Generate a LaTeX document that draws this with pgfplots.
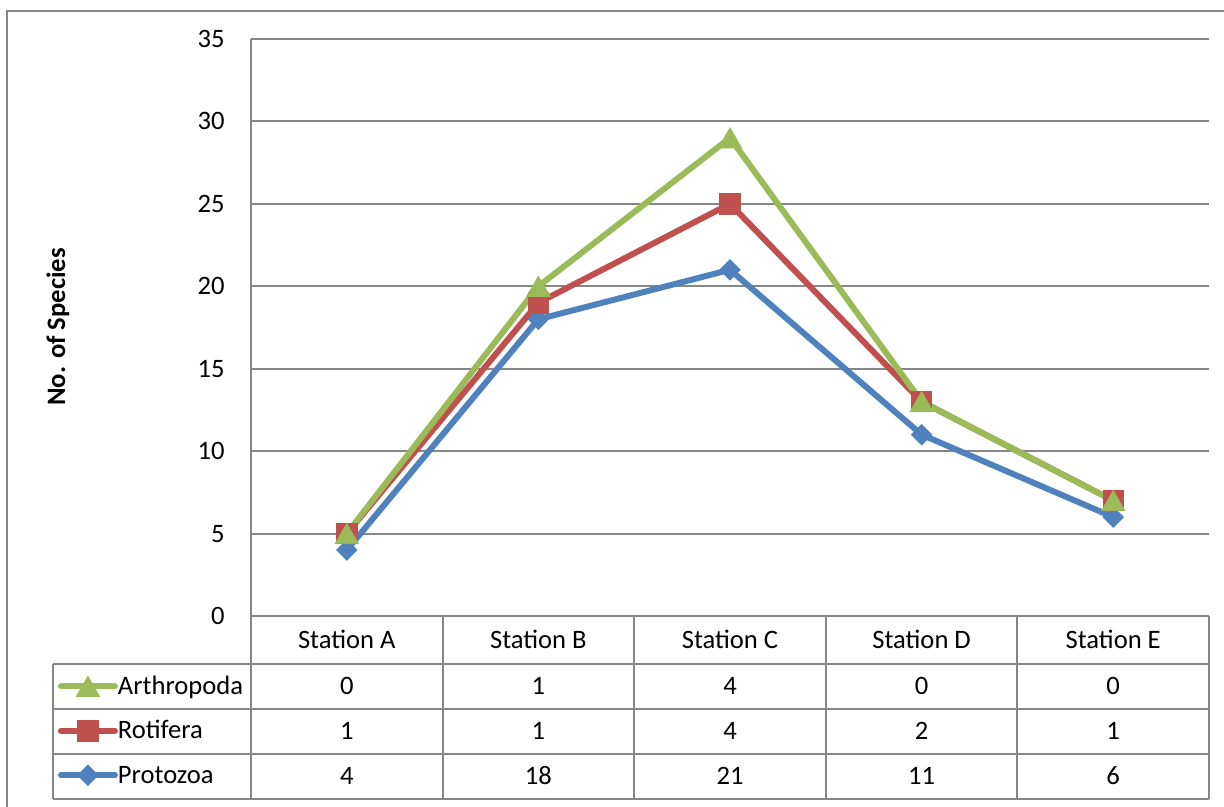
\documentclass[border=0pt]{standalone}
\usepackage{fontspec}
\setmainfont{Carlito}
\usepackage{pgfplots}
\pgfplotsset{compat=1.18}

\definecolor{protoblue}{HTML}{4F81BD}
\definecolor{rotired}{HTML}{C0504D}
\definecolor{arthgreen}{HTML}{9BBB59}
\definecolor{gridgray}{HTML}{878787}
\newcommand\chartfont{\fontsize{13.3bp}{16bp}\selectfont}

\pgfplotsset{
  proto style/.style={protoblue, line width=3bp, mark=square*, mark size=3.6bp,
    mark options={solid, rotate=45, fill=protoblue, draw=protoblue, line width=0.4bp}},
  roti style/.style={rotired, line width=3bp, mark=square*, mark size=5.1bp,
    mark options={solid, fill=rotired, draw=rotired, line width=0.4bp}},
  arth style/.style={arthgreen, line width=3bp, mark=triangle*, mark size=6.7bp,
    mark options={solid, yshift=-1.7bp, fill=arthgreen, draw=arthgreen, line width=0.4bp}},
}

\begin{document}
\begin{tikzpicture}[x=0.5bp,y=0.5bp]
\useasboundingbox (0,0) rectangle (1224,806);
% outer chart frame
\draw[gridgray, line width=1bp] (7,-20) -- (7,795) -- (1260,795);

\begin{axis}[
  at={(125.5bp,95bp)}, anchor=south west,
  scale only axis, width=479bp, height=288.5bp,
  xmin=0.5, xmax=5.5, ymin=0, ymax=35,
  ytick={0,5,...,35}, xtick=\empty,
  axis lines=left,
  axis line style={gridgray, line width=1bp, -},
  ymajorgrids, grid style={gridgray, line width=1bp},
  major tick length=0pt, ytick style={draw=none},
  yticklabel style={font=\chartfont, inner sep=0pt, xshift=-13bp},
  /pgf/number format/assume math mode=true,
  stack plots=y,
  reverse stacked plots=false,
  legend cell align=left,
  legend style={at={(axis description cs:-0.2015,-0.0832)}, anchor=north west,
    draw=none, fill=none, inner sep=0pt, outer sep=0pt, font=\chartfont,
    row sep=0pt, column sep=0pt,
    nodes={inner sep=0pt, text height=15.125bp, text depth=7.125bp}},
  legend image code/.code={\draw[mark repeat=2, mark phase=2, line cap=round, #1]
    plot coordinates {(0bp,0bp)(13.5bp,0bp)(27bp,0bp)};},
]
% legend rows, top to bottom as in the table
\addlegendimage{arth style}
\addlegendimage{roti style}
\addlegendimage{proto style}
\legend{Arthropoda,Rotifera,Protozoa}

% species counts per station, stacked
\addplot[proto style] coordinates {(1,4)(2,18)(3,21)(4,11)(5,6)};
\addplot[roti style]  coordinates {(1,1)(2,1)(3,4)(4,2)(5,1)};
\addplot[arth style]  coordinates {(1,0)(2,1)(3,4)(4,0)(5,0)};
\end{axis}

% y axis title
\node[rotate=90, font=\chartfont\bfseries] at (58,479) {No. of Species};

% data table grid
\begin{scope}[gridgray, line width=1bp]
  \foreach \yy in {142,97,52,7} \draw (53,\yy) -- (1209,\yy);
  \draw (53,142) -- (53,7);
  \foreach \xx in {251,442.6,634.2,825.8,1017.4,1209} \draw (\xx,190) -- (\xx,7);
\end{scope}

% table contents
\begin{scope}[font=\chartfont]
  \foreach \nm [count=\i from 0] in {Station A,Station B,Station C,Station D,Station E}
    \node[anchor=base] at (346.8+191.6*\i, 158) {\nm};
  \foreach \v [count=\i from 0] in {0,1,4,0,0}
    \node[anchor=base] at (346.8+191.6*\i, 112) {\v};
  \foreach \v [count=\i from 0] in {1,1,4,2,1}
    \node[anchor=base] at (346.8+191.6*\i, 67) {\v};
  \foreach \v [count=\i from 0] in {4,18,21,11,6}
    \node[anchor=base] at (346.8+191.6*\i, 22) {\v};
\end{scope}
\end{tikzpicture}
\end{document}
